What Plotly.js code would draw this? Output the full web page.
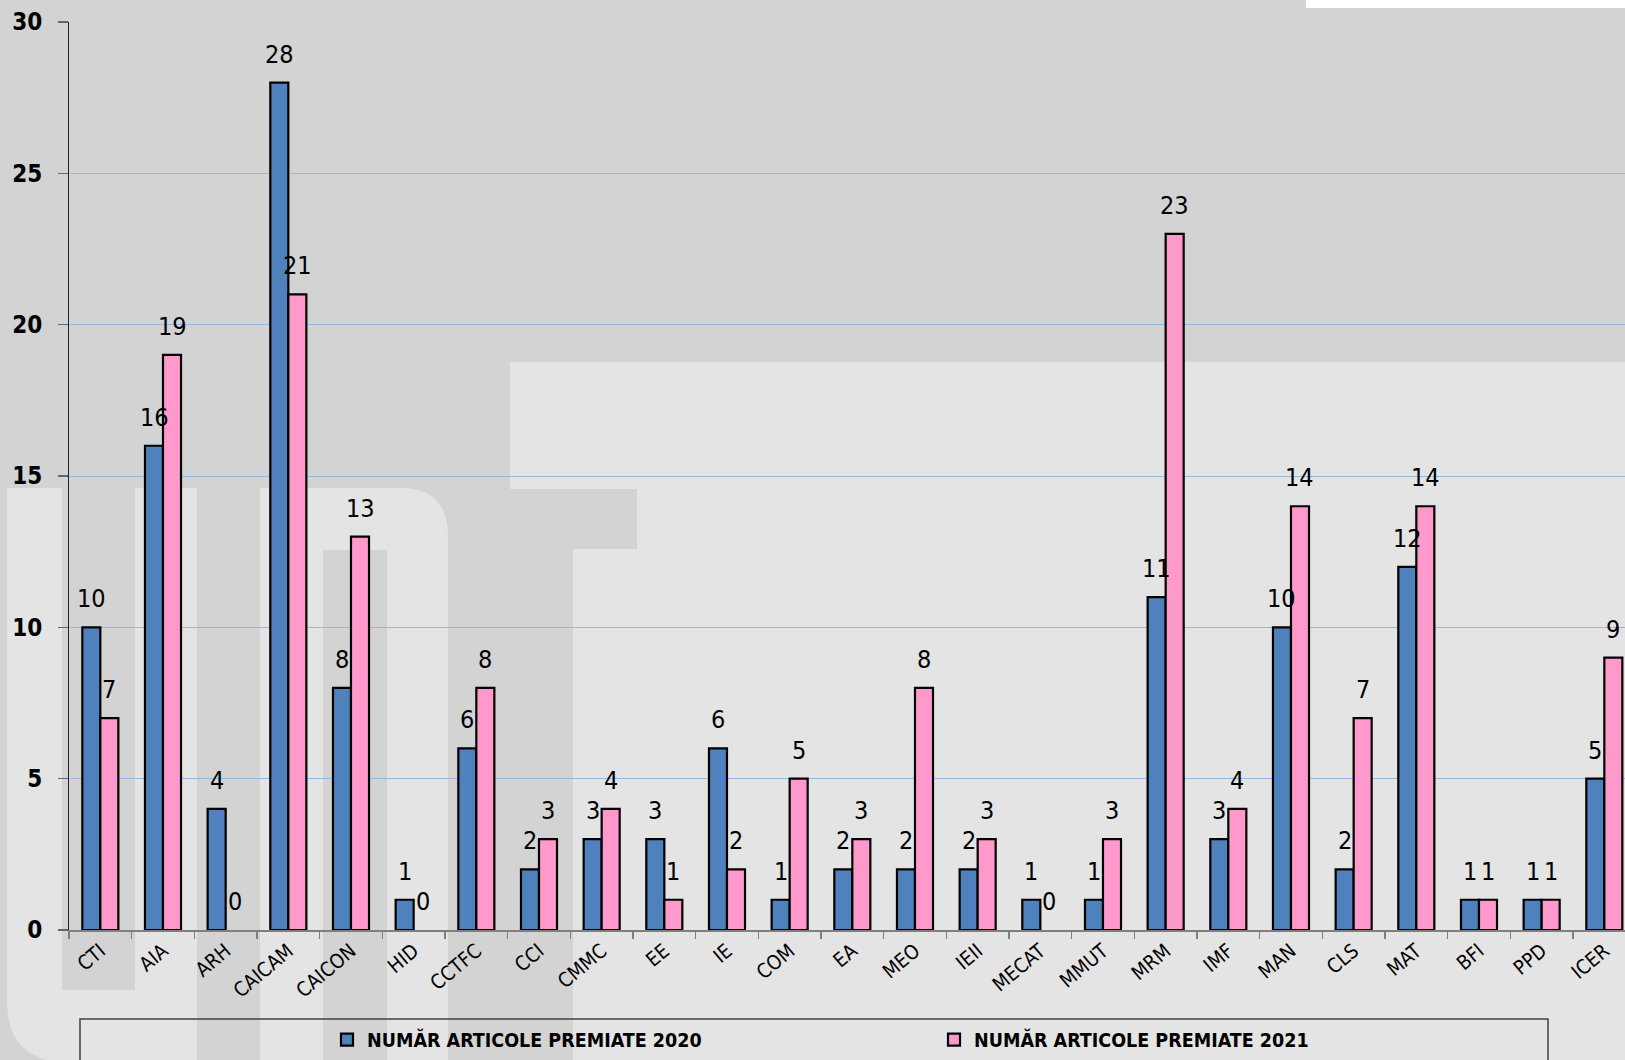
<!DOCTYPE html>
<html>
<head>
<meta charset="utf-8">
<script src="https://cdn.plot.ly/plotly-3.0.1.min.js"></script>
<style>
  html, body { margin: 0; padding: 0; background: #D3D3D3; }
  #chart { width: 1625px; height: 1060px; }
</style>
</head>
<body>
<div id="chart"></div>
<script>
// ---- data ----
const categories = ["CTI","AIA","ARH","CAICAM","CAICON","HID","CCTFC","CCI","CMMC","EE","IE","COM","EA","MEO","IEII","MECAT","MMUT","MRM","IMF","MAN","CLS","MAT","BFI","PPD","ICER"];
const values2020 = [10,16,4,28,8,1,6,2,3,3,6,1,2,2,2,1,1,11,3,10,2,12,1,1,5];
const values2021 = [7,19,0,21,13,0,8,3,4,1,2,5,3,8,3,0,3,23,4,14,7,14,1,1,9];
const seriesNames = ["NUMĂR ARTICOLE PREMIATE 2020","NUMĂR ARTICOLE PREMIATE 2021"];
const yTicks = [0,5,10,15,20,25,30];

// ---- geometry / style ----
const FONT = "'DejaVu Sans Condensed', 'Liberation Sans', sans-serif";
const L = 69, T = 22, W = 1556, H = 908;        // plot area in px
const BOTTOM = T + H;
const DARK = '#D3D3D3', LIGHT = '#E4E4E4';
const px = x => (x - L) / W;
const py = y => (BOTTOM - y) / H;
const pt = (x, y) => px(x) + ',' + py(y);

function rect(x0, y0, x1, y1, color) {
  return {type:'rect', xref:'paper', yref:'paper', layer:'below',
          x0:px(x0), x1:px(x1), y0:py(y1), y1:py(y0),
          fillcolor:color, line:{width:0}};
}
function path(d, color) {
  return {type:'path', xref:'paper', yref:'paper', layer:'below', path:d,
          fillcolor:color, line:{width:0}};
}

const shapes = [
  rect(1306, -2, 1627, 8, '#FFFFFF'),
  // "T" region
  rect(510, 362, 1627, 489, LIGHT),
  rect(637, 489, 1627, 1062, LIGHT),
  rect(573, 549, 637, 1062, LIGHT),
  // "U"
  path('M' + pt(7,488) + ' L' + pt(197,488) + ' L' + pt(197,1062) + ' L' + pt(67,1062) +
       ' Q' + pt(7,1062) + ' ' + pt(7,1000) + ' Z', LIGHT),
  rect(62, 488, 135, 990, DARK),
  // "P"
  path('M' + pt(260,488) + ' L' + pt(400,488) + ' Q' + pt(448,488) + ' ' + pt(448,536) +
       ' L' + pt(448,1062) + ' L' + pt(260,1062) + ' Z', LIGHT),
  rect(323, 550, 387, 1062, DARK),
  // legend frame
  {type:'rect', xref:'paper', yref:'paper', layer:'above',
   x0:px(80), x1:px(1548), y0:py(1075), y1:py(1019),
   fillcolor:'rgba(0,0,0,0)', line:{color:'#404040', width:1.5}}
];

const outline = vals => vals.map(v => (v === 0 ? 0 : 2.2));

const traces = [
  {type:'bar', name:seriesNames[0], x:categories, y:values2020,
   marker:{color:'#4F81BD', line:{color:'#000000', width:outline(values2020)}}},
  {type:'bar', name:seriesNames[1], x:categories, y:values2021,
   marker:{color:'#FF99CC', line:{color:'#000000', width:outline(values2021)}}}
];

// value labels above each bar
const annotations = [];
[values2020, values2021].forEach((vals, s) => {
  vals.forEach((v, i) => {
    annotations.push({
      x: categories[i], y: v, xref:'x', yref:'y', text: String(v),
      showarrow:false, yanchor:'bottom', xanchor:'center',
      xshift: s === 0 ? -9 : 9, yshift: 12,
      font:{family:FONT, size:25, color:'#000'}
    });
  });
});

const layout = {
  width:1625, height:1060,
  margin:{l:L, r:0, t:T, b:1060 - BOTTOM, autoexpand:false},
  paper_bgcolor: DARK,
  plot_bgcolor:'rgba(0,0,0,0)',
  font:{family:FONT, color:'#000'},
  barmode:'group', bargap:0.425, bargroupgap:0,
  hovermode:false,
  showlegend:true,
  legend:{orientation:'h', x:px(327), xanchor:'left', y:py(1040), yanchor:'middle',
          bgcolor:'rgba(0,0,0,0)', borderwidth:0,
          font:{family:FONT, size:19.5, color:'#000', weight:'bold'},
          entrywidthmode:'pixels', entrywidth:562, itemwidth:30},
  xaxis:{type:'category', range:[-0.5, 24.33], showline:true, linecolor:'#7F7F7F', linewidth:1.5,
         ticks:'outside', tickson:'boundaries', ticklen:7, tickcolor:'#7F7F7F', tickwidth:1.5,
         tickangle:-40, tickfont:{family:FONT, size:20, color:'#000'},
         showgrid:false, zeroline:false, fixedrange:true},
  yaxis:{range:[0,30], tickvals:yTicks, ticktext:yTicks.map(String),
         showline:true, linecolor:'#222', linewidth:1,
         ticks:'outside', ticklen:10, tickcolor:'#666', tickwidth:1.5,
         ticklabelstandoff:11,
         tickfont:{family:FONT, size:24, color:'#000', weight:'bold'},
         showgrid:true, gridcolor:'#98B6E0', gridwidth:1, zeroline:false, fixedrange:true},
  shapes: shapes,
  annotations: annotations
};

Plotly.newPlot('chart', traces, layout, {displayModeBar:false, staticPlot:true});
</script>
</body>
</html>
